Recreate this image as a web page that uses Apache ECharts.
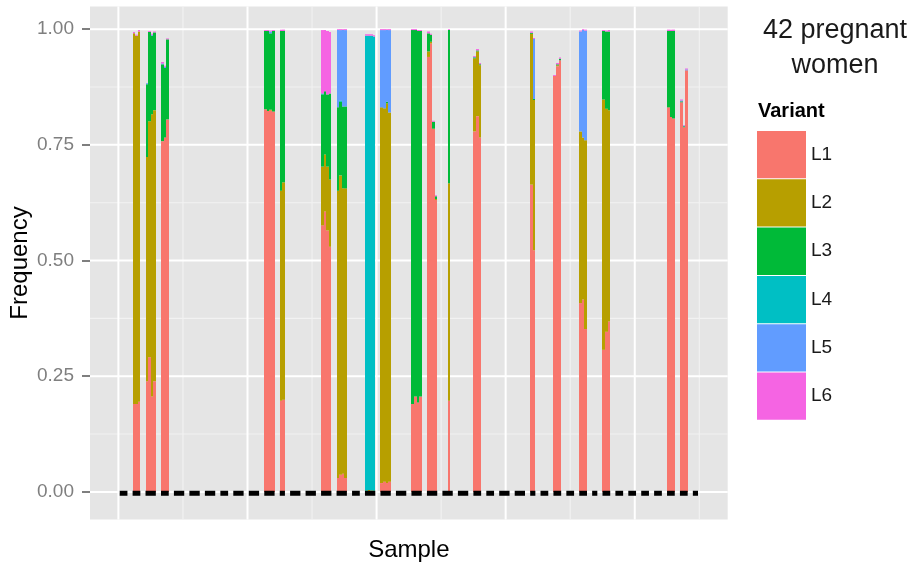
<!DOCTYPE html>
<html>
<head>
<meta charset="utf-8">
<script src="https://cdn.jsdelivr.net/npm/echarts@6/dist/echarts.min.js"></script>
<style>
  html, body { margin: 0; padding: 0; background: #ffffff; }
  #chart { width: 917px; height: 564px; }
</style>
</head>
<body>
<div id="chart"></div>
<script>
// Variant names and their fill colours
const variants = ['L1', 'L2', 'L3', 'L4', 'L5', 'L6'];
const variantColors = ['#F8766D', '#B79F00', '#00BA38', '#00BFC4', '#619CFF', '#F564E3'];

// Sample positions along the x axis that carry a sequenced result
const samplePos = [
  6, 7, 8,
  11, 12, 13, 14,
  17, 18, 19,
  57, 58, 59, 60,
  63, 64,
  79, 80, 81, 82,
  85, 86, 87, 88,
  96, 97, 98, 99,
  102, 103, 104, 105,
  114, 115, 116, 117,
  120, 121, 122, 123,
  128,
  138, 139, 140,
  160, 161,
  169, 170, 171,
  179, 180, 181,
  188, 189, 190,
  213, 214, 215,
  218, 219, 220
];

// Frequency of each variant per sample (same order as samplePos)
const L1 = [
  0.190, 0.190, 0.195,
  0.239, 0.291, 0.206, 0.239,
  0.758, 0.766, 0.805,
  0.827, 0.823, 0.824, 0.822,
  0.197, 0.199,
  0.576, 0.606, 0.565, 0.530,
  0.030, 0.037, 0.039, 0.030,
  0, 0, 0, 0,
  0.019, 0.022, 0.019, 0.022,
  0.190, 0.206, 0.193, 0.206,
  0.940, 0.969, 0.784, 0.631,
  0.197,
  0.779, 0.812, 0.766,
  0.664, 0.522,
  0.899, 0.920, 0.933,
  0.408, 0.416, 0.352,
  0.307, 0.346, 0.368,
  0.831, 0.810, 0.807,
  0.842, 0.788, 0.911
];
const L2 = [
  0.801, 0.796, 0.800,
  0.485, 0.510, 0.610, 0.586,
  0, 0, 0,
  0, 0, 0.002, 0,
  0.454, 0.470,
  0.127, 0.123, 0.138, 0.145,
  0.621, 0.647, 0.617, 0.626,
  0, 0.004, 0.003, 0,
  0.812, 0.807, 0.821, 0.798,
  0, 0, 0, 0,
  0.012, 0.004, 0.001, 0.002,
  0.470,
  0.158, 0.140, 0.156,
  0.326, 0.325,
  0, 0.002, 0,
  0.371, 0.350, 0.408,
  0.541, 0.482, 0.457,
  0, 0, 0,
  0, 0, 0
];
const L3 = [
  0, 0, 0,
  0.157, 0.193, 0.170, 0.168,
  0.166, 0.150, 0.173,
  0.169, 0.173, 0.165, 0.174,
  0.345, 0.327,
  0.156, 0.137, 0.156, 0.186,
  0.180, 0.159, 0.177, 0.177,
  0.003, 0, 0, 0.003,
  0, 0, 0.003, 0,
  0.808, 0.792, 0.803, 0.790,
  0.039, 0.015, 0.015, 0.006,
  0.331,
  0.002, 0.002, 0.002,
  0.002, 0.002,
  0, 0.002, 0.003,
  0, 0, 0,
  0.148, 0.167, 0.170,
  0.165, 0.186, 0.189,
  0.002, 0.002, 0
];
const L4 = [
  0, 0, 0,
  0, 0, 0, 0,
  0, 0, 0,
  0, 0, 0, 0,
  0, 0,
  0.002, 0, 0, 0,
  0, 0.003, 0, 0,
  0.983, 0.982, 0.983, 0.981,
  0, 0, 0, 0,
  0, 0, 0, 0,
  0, 0, 0, 0,
  0,
  0, 0, 0,
  0, 0,
  0, 0, 0,
  0, 0, 0,
  0, 0, 0,
  0, 0, 0,
  0, 0, 0
];
const L5 = [
  0, 0, 0,
  0.002, 0, 0.002, 0,
  0.002, 0.003, 0,
  0, 0, 0.004, 0,
  0, 0,
  0, 0, 0, 0,
  0.167, 0.152, 0.165, 0.165,
  0, 0, 0, 0,
  0.167, 0.169, 0.155, 0.178,
  0, 0, 0, 0,
  0, 0, 0, 0,
  0,
  0.001, 0, 0,
  0, 0.130,
  0, 0, 0,
  0.216, 0.232, 0.237,
  0, 0, 0,
  0, 0, 0,
  0.002, 0.002, 0.002
];
const L6 = [
  0.003, 0.002, 0.003,
  0, 0.002, 0.002, 0.002,
  0.003, 0.002, 0.002,
  0.002, 0.002, 0.002, 0.002,
  0.003, 0.003,
  0.137, 0.132, 0.137, 0.133,
  0.002, 0.002, 0.002, 0.002,
  0.003, 0.003, 0.003, 0.003,
  0.002, 0.002, 0.002, 0.002,
  0.002, 0.002, 0.002, 0.002,
  0.004, 0.002, 0.002, 0.002,
  0.002,
  0.002, 0.003, 0.003,
  0.003, 0.002,
  0.002, 0.003, 0.003,
  0.002, 0.002, 0.002,
  0.002, 0.002, 0.003,
  0.003, 0.003, 0.003,
  0.002, 0.001, 0.002
];
const variantValues = [L1, L2, L3, L4, L5, L6];

// First and last sample position of each woman (42 women)
const womanFirst = [1, 6, 11, 17, 22, 28, 34, 40, 45, 51, 57, 63, 67, 73, 79, 85, 91, 96, 102, 108, 114,
  120, 126, 132, 138, 143, 148, 154, 160, 164, 169, 174, 179, 184, 188, 193, 198, 203, 208, 213, 218, 223];
const womanLast = [3, 8, 14, 19, 25, 31, 37, 42, 48, 54, 60, 64, 70, 76, 82, 88, 93, 99, 105, 111, 117,
  123, 129, 135, 140, 145, 151, 157, 161, 166, 171, 176, 181, 185, 190, 195, 200, 205, 210, 215, 220, 224];
const womanLevel = -0.003;

// Axis breaks
const yBreaks = [0, 0.25, 0.5, 0.75, 1];
const yMinorBreaks = [0.125, 0.375, 0.625, 0.875];
const xBreaks = [0, 50, 100, 150, 200];
const xMinorBreaks = [25, 75, 125, 175, 225];

const FONT = '"Liberation Sans", Arial, Helvetica, sans-serif';

// Grid line records: [value, direction (0 = horizontal, 1 = vertical), major flag]
const gridLines = []
  .concat(yMinorBreaks.map(v => [v, 0, 0]))
  .concat(xMinorBreaks.map(v => [v, 1, 0]))
  .concat(yBreaks.map(v => [v, 0, 1]))
  .concat(xBreaks.map(v => [v, 1, 1]));

// Stacked segments per variant: [position, lower, upper], L1 at the bottom
const stackRows = variants.map(() => []);
samplePos.forEach((p, i) => {
  let base = 0;
  variantValues.forEach((vals, k) => {
    const v = vals[i];
    if (v > 0) stackRows[k].push([p, base, base + v]);
    base += v;
  });
});

function renderStackPiece(params, api) {
  const p = api.value(0), lo = api.value(1), hi = api.value(2);
  const w = api.size([1, 0])[0];
  const a = api.coord([p, lo]);
  const b = api.coord([p, hi]);
  const x0 = Math.round(a[0] - w / 2);
  const x1 = Math.round(a[0] + w / 2);
  return {
    type: 'rect',
    shape: { x: x0, y: b[1], width: x1 - x0, height: a[1] - b[1] },
    style: { fill: api.visual('color') }
  };
}

const chart = echarts.init(document.getElementById('chart'), null, { renderer: 'canvas' });

const stackSeries = variants.map((name, k) => ({
  name: name,
  type: 'custom',
  z: 3,
  silent: true,
  itemStyle: { color: variantColors[k] },
  encode: { x: 0, y: [1, 2] },
  data: stackRows[k],
  renderItem: renderStackPiece
}));

const option = {
  animation: false,
  backgroundColor: '#ffffff',
  grid: {
    left: 90, top: 6.5, width: 637.7, height: 513,
    containLabel: false, outerBoundsMode: 'none',
    show: true, backgroundColor: '#E5E5E5', borderWidth: 0
  },
  xAxis: {
    type: 'value', min: -11, max: 236,
    axisLine: { show: false, onZero: false }, axisTick: { show: false },
    axisLabel: { show: false }, splitLine: { show: false },
    name: 'Sample', nameLocation: 'middle', nameGap: 19, nameMoveOverlap: false,
    nameTextStyle: { fontSize: 24, color: '#000000', fontFamily: FONT }
  },
  yAxis: {
    type: 'value', min: -0.0597, max: 1.049,
    axisLine: { show: false, onZero: false }, splitLine: { show: false },
    axisTick: { show: true, length: 8, customValues: yBreaks, lineStyle: { color: '#7F7F7F', width: 2 } },
    axisLabel: {
      customValues: yBreaks, margin: 16, color: '#7F7F7F', fontSize: 19, fontFamily: FONT,
      formatter: v => v.toFixed(2)
    },
    name: 'Frequency', nameLocation: 'middle', nameGap: 58, nameRotate: 90, nameMoveOverlap: false,
    nameTextStyle: { fontSize: 24, color: '#000000', fontFamily: FONT }
  },
  legend: {
    orient: 'vertical', left: 757, top: 131, padding: 0,
    itemWidth: 49, itemHeight: 47.3, itemGap: 1, icon: 'rect',
    selectedMode: false,
    data: variants,
    textStyle: { fontSize: 19, color: '#1A1A1A', fontFamily: FONT }
  },
  graphic: [
    {
      type: 'text', x: 835, y: 13, silent: true,
      style: {
        text: '42 pregnant\nwomen', align: 'center', verticalAlign: 'top',
        fontSize: 27, lineHeight: 35, fontFamily: FONT, fill: '#1A1A1A'
      }
    },
    {
      type: 'text', x: 758, y: 111, silent: true,
      style: {
        text: 'Variant', align: 'left', verticalAlign: 'middle',
        fontSize: 20, fontWeight: 'bold', fontFamily: FONT, fill: '#000000'
      }
    }
  ],
  series: [
    {
      name: 'panel-grid',
      type: 'custom',
      z: 1,
      silent: true,
      data: gridLines,
      renderItem: function (params, api) {
        const cs = params.coordSys;
        const v = api.value(0), dir = api.value(1), major = api.value(2);
        let shape;
        if (dir === 0) {
          const y = api.coord([0, v])[1];
          shape = { x1: cs.x, y1: y, x2: cs.x + cs.width, y2: y };
        } else {
          const x = api.coord([v, 0])[0];
          shape = { x1: x, y1: cs.y, x2: x, y2: cs.y + cs.height };
        }
        return {
          type: 'line', shape: shape,
          style: { stroke: major ? '#FFFFFF' : '#F2F2F2', lineWidth: major ? 2 : 1.1 }
        };
      }
    }
  ].concat(stackSeries).concat([
    {
      name: 'women',
      type: 'custom',
      z: 5,
      silent: true,
      data: womanFirst.map((f, i) => [f, womanLast[i], womanLevel]),
      renderItem: function (params, api) {
        const half = api.size([1, 0])[0] / 2;
        const a = api.coord([api.value(0), api.value(2)]);
        const b = api.coord([api.value(1), api.value(2)]);
        return {
          type: 'rect',
          shape: { x: a[0] - half, y: a[1] - 2.5, width: b[0] - a[0] + 2 * half, height: 5 },
          style: { fill: '#000000' }
        };
      }
    }
  ])
};

chart.setOption(option);
</script>
</body>
</html>
